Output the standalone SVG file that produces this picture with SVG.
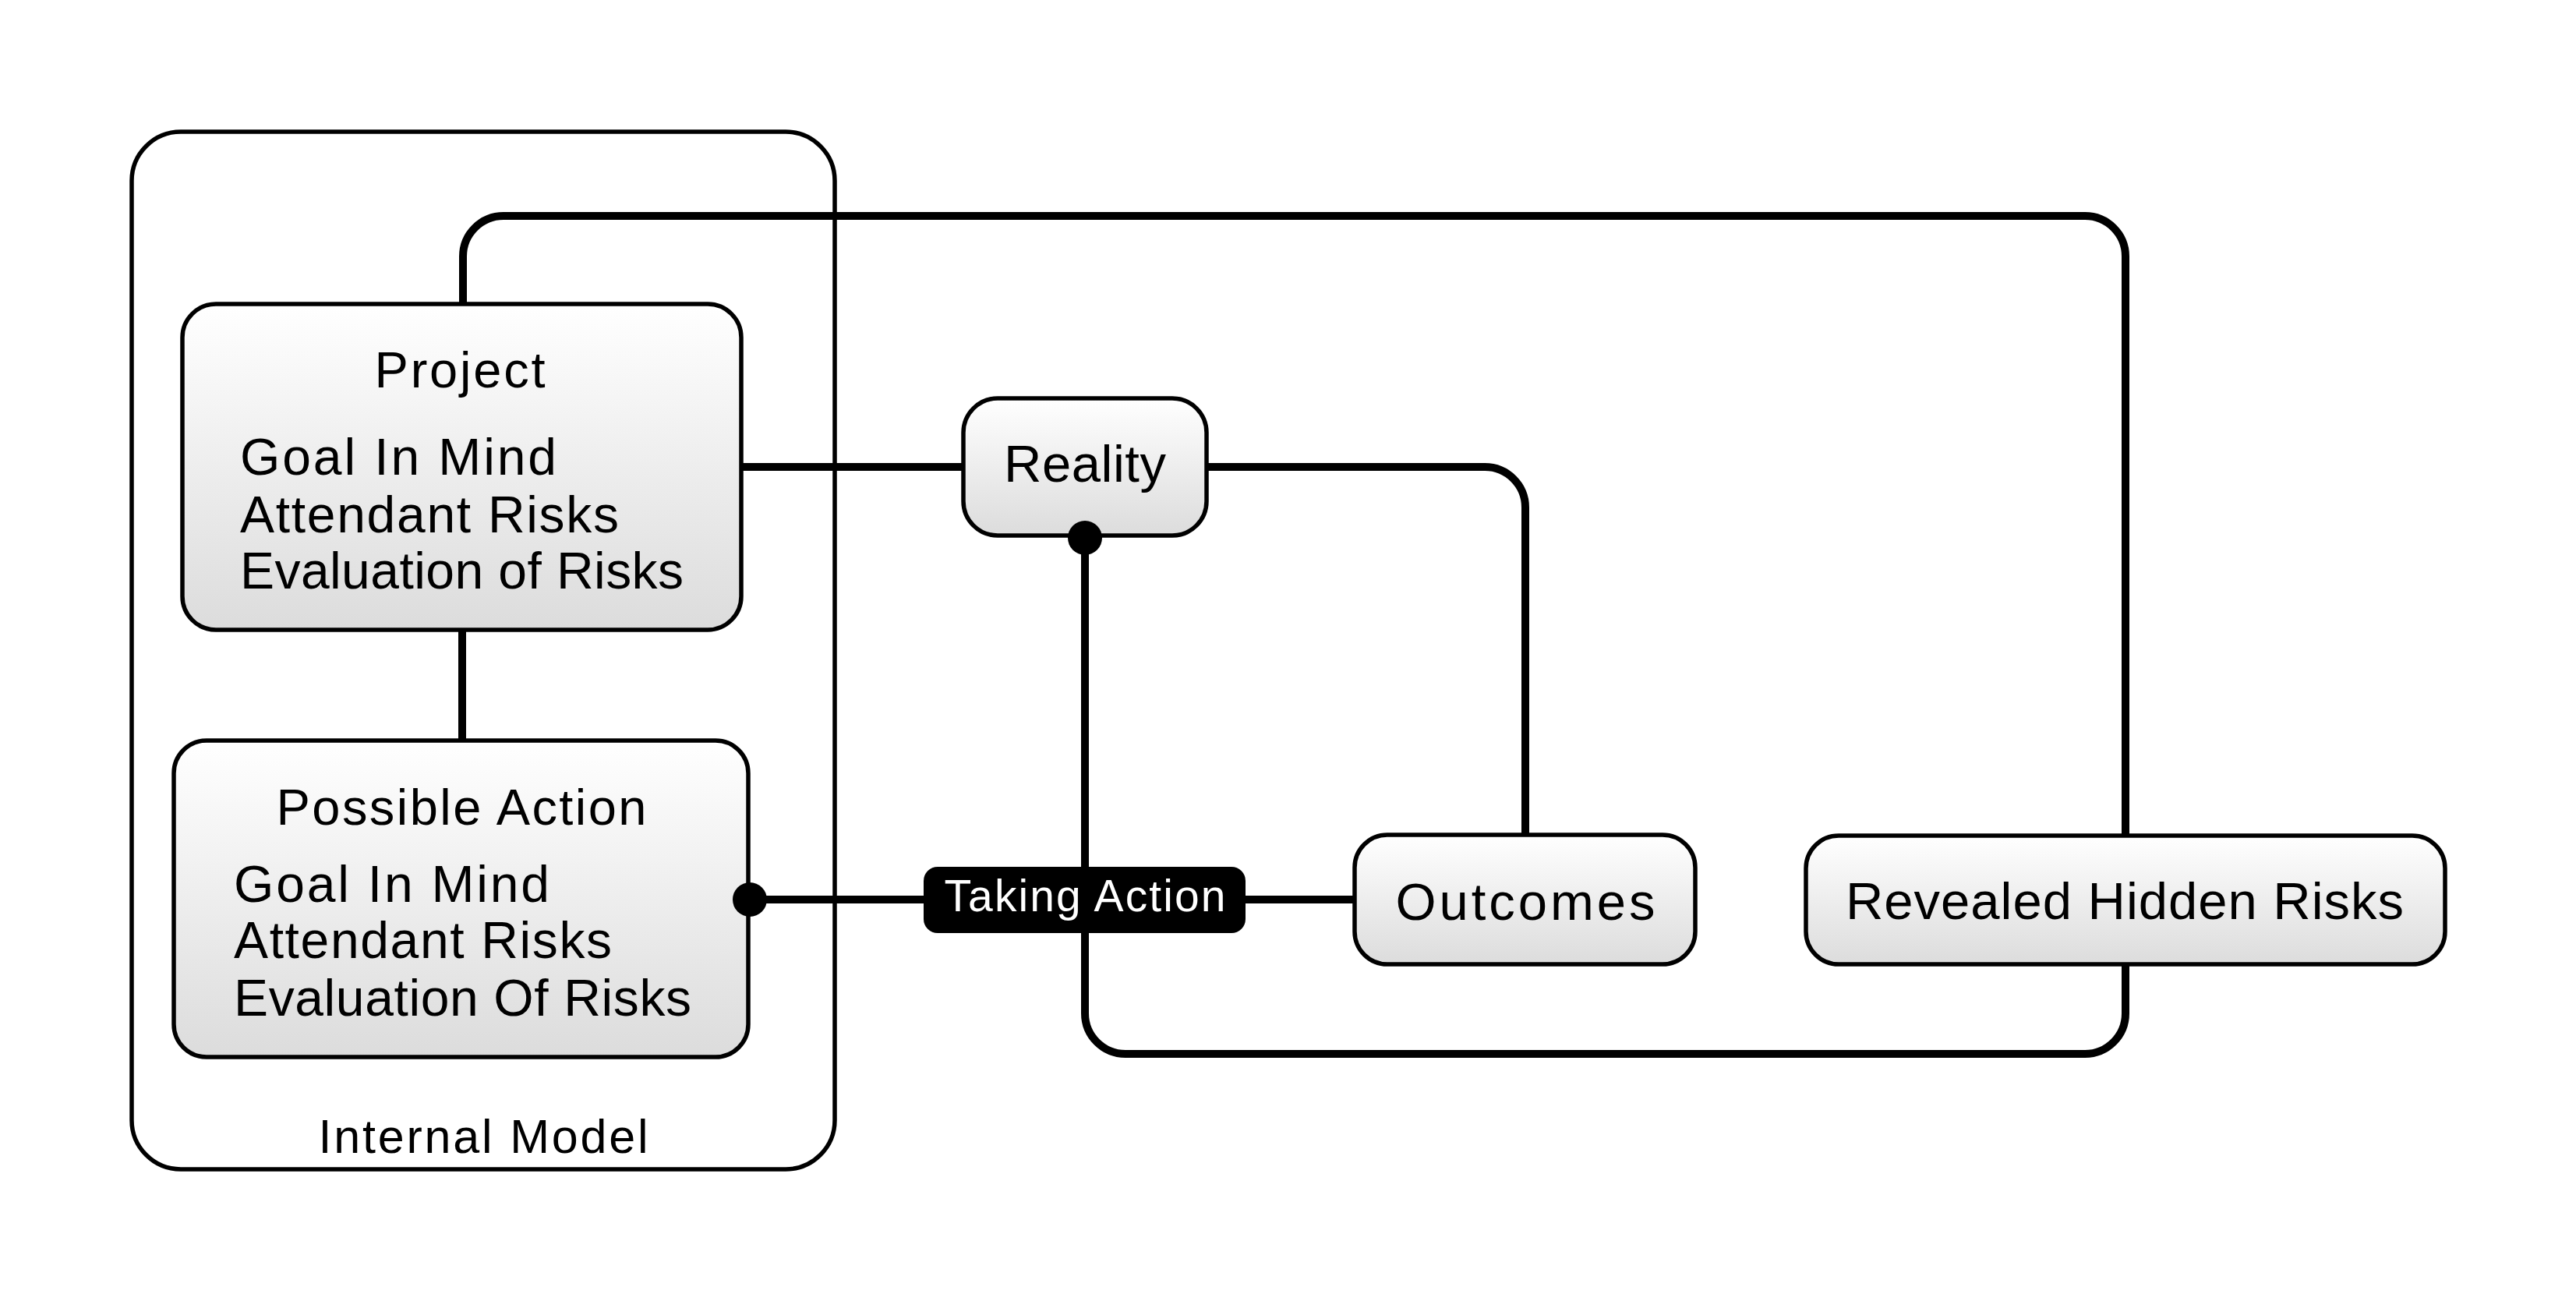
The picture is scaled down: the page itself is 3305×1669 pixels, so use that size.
<svg xmlns="http://www.w3.org/2000/svg" width="3305" height="1669" viewBox="0 0 3305 1669">
<defs>
<linearGradient id="boxfill" x1="0" y1="0" x2="0" y2="1">
<stop offset="0" stop-color="#ffffff"/>
<stop offset="1" stop-color="#dcdcdc"/>
</linearGradient>
</defs>
<style>
.box{fill:url(#boxfill);stroke:#000;stroke-width:5.5}
.frame{fill:#fff;stroke:#000;stroke-width:5.5}
.conn{fill:none;stroke:#000;stroke-width:10}
.dot{fill:#000}
text{font-family:"Liberation Sans",Arial,sans-serif;fill:#000}
.title{font-size:65px;text-anchor:middle}
.body{font-size:66px}
.label{font-size:67px;text-anchor:middle}
.tag{font-size:57px;text-anchor:middle;fill:#fff}
</style>
<rect width="3305" height="1669" fill="#fff"/>
<g id="internal-model">
<rect class="frame" x="169" y="169" width="902" height="1331" rx="63" ry="63"/>
<text x="620" y="1479" textLength="423" style="font-size:61px;text-anchor:middle">Internal Model</text>
</g>
<g id="connectors">
<path class="conn" d="M594,390 V329 A52,52 0 0 1 646,277 H2675 A52,52 0 0 1 2727,329 V1072"/>
<path class="conn" d="M951,599 H1236"/>
<path class="conn" d="M1548,599 H1905 A52,52 0 0 1 1957,651 V1071"/>
<path class="conn" d="M593,808 V950"/>
<path class="conn" d="M962,1154 H1738"/>
<path class="conn" d="M1392,690 V1300 A52,52 0 0 0 1444,1352 H2675 A52,52 0 0 0 2727,1300 V1237"/>
</g>
<g id="project">
<rect class="box" x="234" y="390" width="717" height="418" rx="43" ry="43"/>
<text class="title" x="590" y="497" textLength="219">Project</text>
<text class="body" x="308" y="609" textLength="406">Goal In Mind</text>
<text class="body" x="308" y="683" textLength="486">Attendant Risks</text>
<text class="body" x="308" y="755" textLength="569">Evaluation of Risks</text>
</g>
<g id="possible-action">
<rect class="box" x="223" y="950" width="737" height="406" rx="42" ry="42"/>
<text class="title" x="592" y="1058" textLength="475">Possible Action</text>
<text class="body" x="300" y="1157" textLength="405">Goal In Mind</text>
<text class="body" x="300" y="1229" textLength="485">Attendant Risks</text>
<text class="body" x="300" y="1303" textLength="587">Evaluation Of Risks</text>
<circle class="dot" cx="962" cy="1154" r="22"/>
</g>
<g id="reality">
<rect class="box" x="1236" y="511" width="312" height="176" rx="44" ry="44"/>
<text class="label" x="1392" y="618" textLength="208">Reality</text>
<circle class="dot" cx="1392" cy="690" r="22"/>
</g>
<g id="taking-action">
<rect x="1185" y="1112" width="413" height="85" rx="18" ry="18" fill="#000"/>
<text class="tag" x="1392" y="1169" textLength="361">Taking Action</text>
</g>
<g id="outcomes">
<rect class="box" x="1738" y="1071" width="437" height="166" rx="42" ry="42"/>
<text class="label" x="1957" y="1180" textLength="333">Outcomes</text>
</g>
<g id="revealed-hidden-risks">
<rect class="box" x="2317" y="1072" width="820" height="165" rx="42" ry="42"/>
<text class="label" x="2726" y="1179" textLength="716">Revealed Hidden Risks</text>
</g>
</svg>
